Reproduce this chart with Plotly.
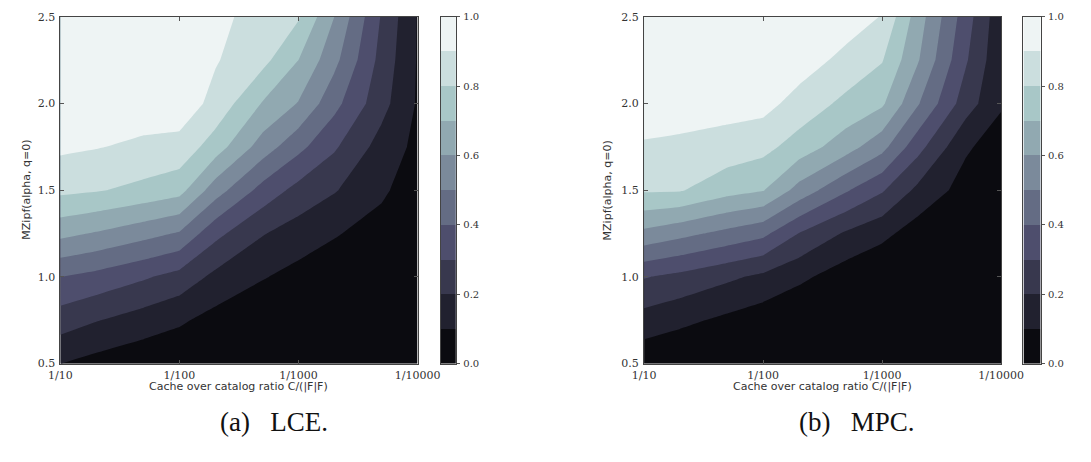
import numpy as np
import plotly.graph_objects as go

# Cache size as a fraction 1/N of the catalog (N values), and Zipf exponents
cache_denominators = [10, 20, 50, 100, 200, 500, 1000, 2000, 5000, 10000]
alpha_values = [0.5, 0.75, 1.0, 1.25, 1.5, 1.75, 2.0, 2.25, 2.5]

# Hit ratio, one row per alpha value, one column per cache ratio
hit_lce = [
    [0.101, 0.065, 0.03, 0.02, 0.0, 0.0, 0.0, 0.0, 0.0, 0.0],
    [0.25, 0.205, 0.154, 0.115, 0.065, 0.015, 0.01, 0.005, 0.0, 0.0],
    [0.40, 0.368, 0.312, 0.264, 0.175, 0.107, 0.066, 0.05, 0.02, 0.005],
    [0.627, 0.591, 0.535, 0.49, 0.329, 0.206, 0.155, 0.107, 0.065, 0.015],
    [0.823, 0.808, 0.772, 0.736, 0.548, 0.363, 0.267, 0.208, 0.115, 0.05],
    [0.919, 0.905, 0.882, 0.867, 0.751, 0.554, 0.429, 0.314, 0.16, 0.075],
    [0.94, 0.935, 0.95, 0.959, 0.87, 0.693, 0.594, 0.432, 0.235, 0.09],
    [0.955, 0.955, 0.965, 0.97, 0.908, 0.83, 0.70, 0.529, 0.265, 0.093],
    [0.965, 0.965, 0.975, 0.98, 0.927, 0.86, 0.81, 0.6, 0.29, 0.095],
]

hit_mpc = [
    [0.025, 0.0, 0.0, 0.0, 0.0, 0.0, 0.0, 0.0, 0.0, 0.0],
    [0.159, 0.125, 0.078, 0.044, 0.005, 0.0, 0.0, 0.0, 0.0, 0.0],
    [0.306, 0.273, 0.219, 0.178, 0.123, 0.046, 0.005, 0.0, 0.0, 0.0],
    [0.574, 0.53, 0.47, 0.425, 0.297, 0.186, 0.128, 0.05, 0.0, 0.0],
    [0.812, 0.808, 0.738, 0.706, 0.563, 0.411, 0.311, 0.175, 0.06, 0.01],
    [0.889, 0.879, 0.857, 0.831, 0.757, 0.644, 0.534, 0.336, 0.115, 0.05],
    [0.955, 0.95, 0.941, 0.934, 0.863, 0.774, 0.716, 0.509, 0.25, 0.112],
    [0.97, 0.965, 0.96, 0.955, 0.95, 0.871, 0.806, 0.608, 0.314, 0.12],
    [0.98, 0.975, 0.97, 0.965, 0.965, 0.95, 0.895, 0.65, 0.35, 0.13],
]

tick_denominators = [10, 100, 1000, 10000]
tick_labels = ["1/10", "1/100", "1/1000", "1/10000"]
alpha_ticks = [0.5, 1.0, 1.5, 2.0, 2.5]
colorbar_ticks = [0.0, 0.2, 0.4, 0.6, 0.8, 1.0]
band_centers = [0.05, 0.15, 0.25, 0.35, 0.45, 0.55, 0.65, 0.75, 0.85, 0.95]

captions = ["(a)&nbsp;&nbsp;&nbsp;LCE.", "(b)&nbsp;&nbsp;&nbsp;MPC."]
x_title = "Cache over catalog ratio C/(|F|F)"
y_title = "MZipf(alpha, q=0)"

# 10-step "bone" palette, one colour per 0.1 band
bone = ["#0b0b10", "#21212f", "#38384e", "#4e4e6d", "#646c84",
        "#7b8a9b", "#91a9b1", "#a8c7c7", "#cbdede", "#eef4f4"]
step_scale = []
for k, c in enumerate(bone):
    step_scale.append([k / 10, c])
    step_scale.append([(k + 1) / 10, c])

W, H = 1091, 462
plot_top, plot_bottom = 11, 368
panels = [
    dict(x0=50, x1=419, cb0=443, cb1=459, z=hit_lce, cap_x=271, ytitle_x=15),
    dict(x0=653, x1=1022, cb0=1045, cb1=1063, z=hit_mpc, cap_x=873, ytitle_x=615),
]

x_pos = np.log10(cache_denominators)
tick_pos = np.log10(tick_denominators)

tick_font = dict(family="DejaVu Serif", size=11, color="#333333")
cbar_font = dict(family="DejaVu Serif", size=10, color="#333333")
label_font = dict(family="DejaVu Sans", size=11, color="#333333")

fig = go.Figure()
layout = dict(
    width=W, height=H, margin=dict(l=0, r=0, t=0, b=0),
    paper_bgcolor="white", plot_bgcolor="white", showlegend=False,
    annotations=[],
)
ydom = [1 - plot_bottom / H, 1 - plot_top / H]

for i, p in enumerate(panels):
    xa = "x" if i == 0 else f"x{2 * i + 1}"
    ya = "y" if i == 0 else f"y{2 * i + 1}"
    cxa = f"x{2 * i + 2}"
    cya = f"y{2 * i + 2}"
    xkey = "xaxis" if i == 0 else f"xaxis{2 * i + 1}"
    ykey = "yaxis" if i == 0 else f"yaxis{2 * i + 1}"
    cxkey = f"xaxis{2 * i + 2}"
    cykey = f"yaxis{2 * i + 2}"

    fig.add_trace(go.Contour(
        x=x_pos, y=alpha_values, z=p["z"],
        colorscale=step_scale, zmin=0, zmax=1,
        autocontour=False,
        contours=dict(start=0.1, end=0.9, size=0.1, coloring="fill", showlines=False),
        line=dict(width=0, smoothing=0),
        showscale=False, hoverinfo="skip",
        xaxis=xa, yaxis=ya,
    ))

    fig.add_trace(go.Heatmap(
        x=[0], y=band_centers, z=[[v] for v in band_centers],
        colorscale=step_scale, zmin=0, zmax=1, showscale=False,
        hoverinfo="skip", xaxis=cxa, yaxis=cya,
    ))

    layout[xkey] = dict(
        domain=[p["x0"] / W, p["x1"] / W], range=[1, 4], anchor=ya,
        tickmode="array", tickvals=tick_pos, ticktext=tick_labels,
        ticks="inside", ticklen=4, tickcolor="#555555", tickfont=tick_font,
        showline=True, linecolor="#444444", linewidth=1, mirror="ticks",
        showgrid=False, zeroline=False, ticklabelstandoff=1,
    )
    layout[ykey] = dict(
        domain=ydom, range=[0.5, 2.5], anchor=xa,
        tickmode="array", tickvals=alpha_ticks, tickformat=".1f",
        ticks="inside", ticklen=4, tickcolor="#555555", tickfont=tick_font,
        showline=True, linecolor="#444444", linewidth=1, mirror="ticks",
        showgrid=False, zeroline=False, ticklabelstandoff=2,
    )
    layout[cxkey] = dict(
        domain=[p["cb0"] / W, p["cb1"] / W], range=[-0.5, 0.5], anchor=cya,
        showticklabels=False, ticks="", showgrid=False, zeroline=False,
        showline=True, linecolor="#444444", linewidth=1, mirror=True,
    )
    layout[cykey] = dict(
        domain=ydom, range=[0, 1], anchor=cxa, side="right",
        tickmode="array", tickvals=colorbar_ticks, tickformat=".1f",
        ticks="outside", ticklen=3, tickcolor="#555555", tickfont=cbar_font,
        showline=True, linecolor="#444444", linewidth=1, mirror=True,
        showgrid=False, zeroline=False, ticklabelstandoff=1,
    )

    layout["annotations"] += [
        dict(text=x_title, x=(p["x0"] + p["x1"]) / 2 / W, y=1 - 392 / H,
             xref="paper", yref="paper", showarrow=False, font=label_font,
             xanchor="center", yanchor="middle"),
        dict(text=y_title, x=p["ytitle_x"] / W, y=1 - (plot_top + plot_bottom) / 2 / H,
             xref="paper", yref="paper", showarrow=False, font=label_font,
             textangle=-90, xanchor="center", yanchor="middle"),
        dict(text=captions[i], x=p["cap_x"] / W, y=1 - 428 / H,
             xref="paper", yref="paper", showarrow=False,
             font=dict(family="Liberation Serif", size=27, color="#111111"),
             xanchor="center", yanchor="middle"),
    ]

fig.update_layout(**layout)
fig.write_html("out.html")
